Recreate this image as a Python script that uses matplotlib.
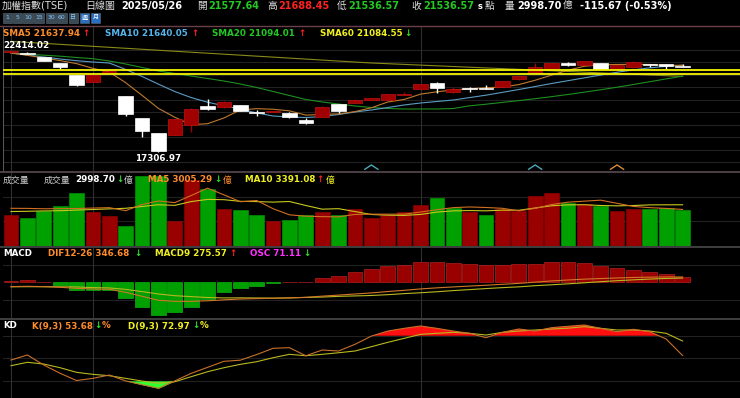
import matplotlib
matplotlib.use('Agg')
import matplotlib.pyplot as plt
import numpy as np
from matplotlib.patches import Rectangle

plt.rcParams['font.family'] = ['DejaVu Sans', 'Noto Sans CJK TC']

W, H = 740, 398

# ---------------- data ----------------
opens = [22300, 22250, 22034, 21751, 21168, 20820, 21250, 20108, 18999, 18253,
         18168, 18665, 19626, 19546, 19661, 19290, 19315, 19277, 18914, 19078,
         19696, 19775, 19909, 19915, 20180, 20442, 20771, 20290, 20495, 20490,
         20571, 20939, 21253, 21467, 21710, 21666, 21751, 21467, 21537, 21675,
         21716, 21577.64]
highs = [22414.02, 22290, 22045, 21760, 21175, 21170, 21400, 20120, 19010, 18270,
         18970, 19495, 19944, 19860, 19680, 19412, 19345, 19290, 18998, 19590,
         19705, 19935, 20010, 20205, 20292, 20720, 20785, 20556, 20541, 20656,
         20870, 21115, 21751, 21765, 21800, 21865, 21765, 21666, 21835, 21690,
         21725, 21688.45]
lows = [22240, 22190, 21855, 21452, 20630, 20810, 21230, 19128, 18083, 17306.97,
        18150, 18332, 19420, 19530, 19350, 19113, 19300, 19030, 18735, 19060,
        19263, 19760, 19895, 19905, 20170, 20430, 20243, 20280, 20307, 20470,
        20550, 20925, 21240, 21450, 21616, 21650, 21450, 21455, 21525, 21537,
        21467, 21536.57]
closes = [22330, 22225, 21865, 21537, 20641, 21154, 21330, 19200, 18382, 17391.76,
          18950, 19480, 19440, 19825, 19377, 19270, 19335, 19048, 18750, 19576,
          19377, 19909, 19994, 20193, 20200, 20706, 20490, 20465, 20480, 20475,
          20855, 21104, 21550, 21751, 21695, 21835, 21467, 21636, 21785, 21660,
          21586, 21536.57]

sma5 = [22248, 22130, 22000, 21870, 21720, 21484, 21305, 20772, 20141, 19492,
        19051, 18681, 18729, 19017, 19414, 19478, 19449, 19371, 19156, 19196,
        19217, 19332, 19521, 19810, 19935, 20200, 20317, 20411, 20468, 20523,
        20553, 20676, 20893, 21147, 21391, 21587, 21660, 21677, 21684, 21677,
        21627, 21637.94]
sma10 = [22248, 22149, 22049, 21950, 21865, 21800, 21750, 21430, 21080, 20700,
         20330, 20030, 19800, 19620, 19462, 19263, 19113, 19063, 19038, 19088,
         19188, 19312, 19412, 19536, 19661, 19760, 19835, 19909, 20030, 20150,
         20290, 20430, 20580, 20730, 20870, 21010, 21150, 21290, 21410, 21510,
         21585, 21640.05]
sma20 = [22248, 22198, 22139, 22089, 22024, 21965, 21850, 21701, 21527, 21352,
         21228, 21104, 20979, 20855, 20706, 20531, 20332, 20133, 19934, 19810,
         19711, 19611, 19536, 19486, 19462, 19462, 19462, 19486, 19620, 19700,
         19790, 19880, 19975, 20075, 20185, 20300, 20420, 20545, 20680, 20820,
         20960, 21094.01]
sma60 = [22825, 22777, 22727, 22679, 22630, 22580, 22532, 22483, 22434, 22385,
         22336, 22287, 22238, 22189, 22141, 22091, 22043, 21994, 21945, 21896,
         21847, 21798, 21751, 21716, 21681, 21646, 21611, 21575, 21540, 21505,
         21470, 21435, 21400, 21365, 21330, 21294, 21259, 21224, 21189, 21154,
         21119, 21084.55]
hlines = [21427, 21213]

volume = [2580, 2275, 2915, 3275, 4360, 2775, 2440, 1665, 5830, 5830,
          2080, 5415, 4720, 3055, 2970, 2580, 2000, 2165, 2500, 2775,
          2500, 3000, 2275, 2500, 2775, 3390, 3970, 3140, 2775, 2555,
          3055, 2915, 4165, 4360, 3555, 3470, 3330, 2860, 3055, 3055,
          3140, 2998.70]
vol_up = [1, 0, 0, 0, 0, 1, 1, 0, 0, 0, 1, 1, 0, 1, 0, 0, 1, 0, 0, 1, 0,
          1, 1, 1, 1, 1, 0, 0, 1, 0, 1, 1, 1, 1, 0, 1, 0, 1, 1, 0, 0, 0]
vol_ma5 = [3100, 3090, 3060, 3070, 3081, 3120, 3153, 2903, 3414, 3708,
           3569, 4164, 4775, 4220, 3648, 3748, 3065, 2554, 2443, 2404,
           2388, 2588, 2610, 2610, 2610, 2788, 2982, 3155, 3210, 3166,
           3099, 2888, 3093, 3410, 3610, 3693, 3776, 3515, 3254, 3154,
           3088, 3005.29]
vol_ma10 = [2830, 2850, 2880, 2900, 2950, 3000, 3050, 3100, 3250, 3395,
            3345, 3659, 3839, 3817, 3678, 3659, 3615, 3665, 3332, 3026,
            3068, 2827, 2582, 2527, 2507, 2588, 2785, 2883, 2910, 2888,
            2944, 2935, 3124, 3310, 3388, 3396, 3332, 3304, 3332, 3382,
            3391, 3391.08]

dif = [-280, -260, -280, -325, -390, -435, -455, -650, -910, -1170,
       -1235, -1235, -1200, -1140, -1085, -1060, -1040, -1010, -975, -900,
       -830, -760, -690, -600, -520, -430, -360, -300, -245, -190,
       -130, -70, 10, 90, 150, 205, 245, 280, 315, 335, 350, 346.68]
macd9 = [-290, -285, -288, -290, -300, -345, -365, -460, -605, -760,
         -870, -930, -988, -1015, -1010, -1018, -1028, -1015, -983, -958,
         -913, -885, -856, -804, -736, -680, -614, -537, -474, -406,
         -346, -295, -219, -160, -100, -32, 41, 105, 161, 210, 250, 275.57]
osc = [10, 25, 8, -35, -90, -90, -90, -190, -305, -410,
       -365, -305, -212, -125, -75, -42, -12, 5, 8, 58,
       83, 125, 166, 204, 216, 250, 254, 237, 229, 216,
       216, 225, 229, 250, 250, 237, 204, 175, 154, 125, 100, 71.11]

k_vals = [47.7, 54.4, 41.1, 30.1, 20.5, 23.4, 27.8, 20.0, 15.0, 10.2,
          20.0, 30.0, 38.0, 46.0, 47.5, 55.0, 63.3, 64.1, 53.4, 61.0,
          59.7, 68.6, 79.5, 86.2, 89.8, 92.9, 89.8, 86.2, 83.2, 77.4,
          84.5, 88.9, 86.2, 90.7, 92.5, 94.2, 89.8, 85.3, 88.5, 85.3, 75.6, 53.68]
d_vals = [40.2, 44.7, 42.4, 37.5, 31.4, 28.7, 26.9, 23.4, 19.8, 16.8,
          18.9, 25.6, 32.2, 37.5, 42.0, 45.5, 50.8, 55.3, 53.4, 55.3,
          57.4, 59.7, 65.4, 71.2, 76.5, 81.8, 83.2, 84.5, 83.2, 80.9,
          84.5, 86.2, 87.6, 88.9, 90.0, 92.0, 89.8, 87.6, 87.6, 86.2, 83.2, 72.97]

period_buttons = ['1', '5', '10', '15', '30', '60', '日', '週', '月']
month_start_bars = [0, 5, 25]
event_bars = [22.0, 32.0, 37.0]
event_colors = ['#4aa8b8', '#4aa8b8', '#d88a38']

# ---------------- colours ----------------
BG = '#000000'
RED_C = '#a00000'
RED_E = '#c01010'
GRN_V = '#00a000'
RED_V = '#990000'
C_SMA5 = '#c07a2c'
C_SMA10 = '#5a9cc4'
C_SMA20 = '#1f8f1f'
C_SMA60 = '#8a8a1a'
T_ORANGE = '#ff8c2a'
T_BLUE = '#55b4ea'
T_GREEN = '#22c822'
T_YELLOW = '#f0f020'
UP_RED = '#ff2020'
DN_GRN = '#30e030'
LS = 6.3   # legend font size

fig = plt.figure(figsize=(W / 100, H / 100), dpi=100, facecolor=BG)

n = len(closes)
x = np.arange(n)
XL = (-0.488, 44.505)


def pax(x0, y0, x1, y1):
    ax = fig.add_axes([x0 / W, 1 - y1 / H, (x1 - x0) / W, (y1 - y0) / H])
    ax.set_facecolor(BG)
    ax.set_xticks([])
    ax.set_yticks([])
    for s in ax.spines.values():
        s.set_visible(False)
    ax.set_xlim(*XL)
    return ax


def T(xp, yp, s, color, bold=True, size=LS, ha='left'):
    fig.text(xp / W, 1 - yp / H, s, color=color, fontsize=size,
             fontweight='bold' if bold else 'normal', ha=ha, va='center')


def vgrid(ax):
    for b in month_start_bars:
        ax.axvline(b, color='#303030', lw=0.8, zorder=0)

# ---------------- price panel ----------------
axp = pax(3, 27, 740, 171)
axp.set_ylim(16376.4, 23541.9)
y0, y1 = axp.get_ylim()
for k in range(10):
    yp = 49.7 + 12.5 * k
    frac = (171 - yp) / (171 - 27)
    axp.axhline(y0 + frac * (y1 - y0), color='#222222', lw=0.8, zorder=0)
vgrid(axp)

o = np.array(opens); c = np.array(closes); h = np.array(highs); l = np.array(lows)
up = c >= o
minh = 60
for i in range(n):
    col = RED_C if up[i] else '#ffffff'
    axp.vlines(x[i], l[i], h[i], color=col, lw=1.0, zorder=3)
    body_lo = min(o[i], c[i])
    body_h = max(abs(c[i] - o[i]), minh)
    axp.bar(x[i], body_h, bottom=body_lo - (body_h - abs(c[i] - o[i])) / 2,
            width=0.88, color=col, edgecolor=RED_E if up[i] else '#ffffff',
            lw=0.5, zorder=4)

axp.plot(x, sma60, color=C_SMA60, lw=0.8, zorder=2)
axp.plot(x, sma20, color=C_SMA20, lw=0.8, zorder=2)
axp.plot(x, sma10, color=C_SMA10, lw=0.8, zorder=2)
axp.plot(x, sma5, color=C_SMA5, lw=0.8, zorder=2)
for hv in hlines:
    axp.axhline(hv, color='#f4f400', lw=1.3, zorder=6)

# small event markers at panel bottom
for eb, ec in zip(event_bars, event_colors):
    axp.plot([eb - 0.4, eb, eb + 0.4], [0.012, 0.042, 0.012], color=ec, lw=1.0,
             transform=axp.get_xaxis_transform(), clip_on=False, zorder=7)

axp.axvline(XL[0] + 0.02, color='#555555', lw=0.8)

# ---------------- volume panel ----------------
axv = pax(3, 172, 740, 245.5)
axv.set_ylim(0, 6123)
for g in (2000, 4000):
    axv.axhline(g, color='#222222', lw=0.8, zorder=0)
vgrid(axv)
vcols = [RED_V if u else GRN_V for u in vol_up]
axv.bar(x, volume, width=0.9, color=vcols, edgecolor=vcols, lw=0.4, zorder=2)
axv.plot(x, vol_ma10, color='#c8c820', lw=0.8, zorder=3)
axv.plot(x, vol_ma5, color='#d07020', lw=0.8, zorder=3)

# ---------------- MACD panel ----------------
axm = pax(3, 247, 740, 318)
axm.set_ylim(-446, 441)
for g in (-219, 219):
    axm.axhline(g, color='#222222', lw=0.8, zorder=0)
vgrid(axm)
ocols = ['#990000' if v >= 0 else '#00a000' for v in osc]
axm.bar(x, osc, width=0.9, color=ocols,
        edgecolor=['#b02020' if v >= 0 else '#10b010' for v in osc],
        lw=0.5, zorder=2)
axm2 = fig.add_axes(axm.get_position(), frameon=False)
axm2.set_xlim(*XL)
axm2.set_ylim(-2320, 2295)
axm2.set_xticks([]); axm2.set_yticks([])
axm2.plot(x, macd9, color='#b8b820', lw=0.8)
axm2.plot(x, dif, color='#d07828', lw=0.8)

# ---------------- KD panel ----------------
axk = pax(3, 319, 740, 398)
axk.set_ylim(-2.7, 102.2)
for g in (20, 50, 80):
    axk.axhline(g, color='#222222', lw=0.8, zorder=0)
vgrid(axk)
kk = np.array(k_vals)
axk.fill_between(x, kk, 80, where=kk > 80, interpolate=True, color='#ff1010', lw=0, zorder=2)
axk.fill_between(x, kk, 20, where=kk < 20, interpolate=True, color='#30ff30', lw=0, zorder=2)
axk.plot(x, d_vals, color='#b8b820', lw=0.8, zorder=3)
axk.plot(x, k_vals, color='#c8702a', lw=0.8, zorder=3)

# ---------------- separators ----------------
def hsep(yp, color, lw=1.0):
    fig.add_artist(plt.Line2D([0, 1], [1 - yp / H, 1 - yp / H], color=color, lw=lw))

hsep(26, '#6a4048')
hsep(171.5, '#5a4a52', 1.2)
hsep(246.5, '#4a4a4a', 1.2)
hsep(318.5, '#4a4a4a', 1.2)

# ---------------- header texts ----------------
T(2, 6, '加權指數(TSE)', '#dddddd', bold=False, size=7.2)
T(85, 6, '日線圖', '#dddddd', bold=False, size=7.2)
T(121, 6, '2025/05/26', '#ffffff', size=7)
T(197, 6, '開', '#dddddd', bold=False, size=7)
T(208, 6, f'{opens[-1]:.2f}', T_GREEN, size=7)
T(267, 6, '高', '#dddddd', bold=False, size=7)
T(278, 6, f'{highs[-1]:.2f}', '#ff2020', size=7)
T(337, 6, '低', '#dddddd', bold=False, size=7)
T(348, 6, f'{lows[-1]:.2f}', T_GREEN, size=7)
T(411, 6, '收', '#dddddd', bold=False, size=7)
T(423, 6, f'{closes[-1]:.2f}', T_GREEN, size=7)
T(478, 6.5, 's', '#ffffff', size=6)
T(485, 6, '點', '#dddddd', bold=False, size=7)
T(505, 6, '量', '#dddddd', bold=False, size=7)
T(517, 6, f'{volume[-1]:.2f}', '#ffffff', size=7)
T(563, 6, '億', '#dddddd', bold=False, size=7)
T(580, 6, '-115.67 (-0.53%)', '#ffffff', size=7)

# period buttons
bx = [3, 13, 23, 34, 46, 57, 69, 80, 91]
bw = [9, 9, 10, 10, 10, 10, 9, 9, 9]
for i, lab in enumerate(period_buttons):
    hl = lab in ('週', '月')
    fig.add_artist(Rectangle((bx[i] / W, 1 - 22.5 / H), bw[i] / W, 9.5 / H,
                             facecolor='#2a6fc0' if hl else '#3c4a55',
                             edgecolor='#5a6a75', lw=0.4))
    T(bx[i] + bw[i] / 2, 17.8, lab, '#ffffff' if hl else '#7fc8ff',
      bold=False, size=4.4, ha='center')

# MA legend
T(3, 33, f'SMA5 {sma5[-1]:.2f}', T_ORANGE)
T(82, 33, '↑', UP_RED)
T(105, 33, f'SMA10 {sma10[-1]:.2f}', T_BLUE)
T(191, 33, '↑', UP_RED)
T(212, 33, f'SMA20 {sma20[-1]:.2f}', T_GREEN)
T(298, 33, '↑', UP_RED)
T(320, 33, f'SMA60 {sma60[-1]:.2f}', T_YELLOW)
T(404, 33, '↓', DN_GRN)

T(3, 45, f'{max(highs):.2f}', '#ffffff')
T(135, 158.5, f'{min(lows):.2f}', '#ffffff')

# volume legend
T(3, 180, '成交量', '#cccccc', bold=False, size=6.4)
T(44, 180, '成交量', '#cccccc', bold=False, size=6.4)
T(75, 180, f'{volume[-1]:.2f}', '#ffffff')
T(116, 180, '↓', DN_GRN)
T(124, 180, '億', '#cccccc', bold=False, size=6.4)
T(148, 180, f'MA5 {vol_ma5[-1]:.2f}', T_ORANGE)
T(214, 180, '↓', DN_GRN)
T(223, 180, '億', T_ORANGE, bold=False, size=6.4)
T(245, 180, f'MA10 {vol_ma10[-1]:.2f}', T_YELLOW)
T(316, 180, '↑', UP_RED)
T(326, 180, '億', T_YELLOW, bold=False, size=6.4)

# MACD legend
T(3, 253, 'MACD', '#ffffff')
T(48, 253, f'DIF12-26 {dif[-1]:.2f}', T_ORANGE)
T(134, 253, '↓', DN_GRN)
T(155, 253, f'MACD9 {macd9[-1]:.2f}', T_YELLOW)
T(229, 253, '↑', UP_RED)
T(250, 253, f'OSC {osc[-1]:.2f}', '#ff30ff')
T(303, 253, '↓', DN_GRN)

# KD legend
T(3, 326, 'KD', '#ffffff')
T(32, 326, f'K(9,3) {k_vals[-1]:.2f}', T_ORANGE)
T(94, 326, '↓', DN_GRN)
T(102, 326, '%', T_ORANGE)
T(128, 326, f'D(9,3) {d_vals[-1]:.2f}', T_YELLOW)
T(192, 326, '↓', DN_GRN)
T(200, 326, '%', T_YELLOW)

fig.savefig('out.png', dpi=100, facecolor=BG)
